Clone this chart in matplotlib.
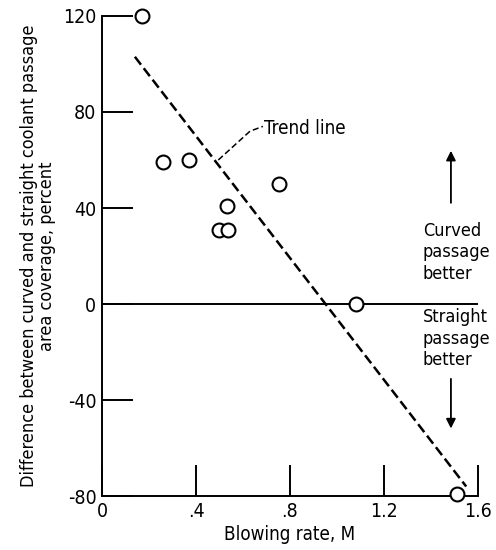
import matplotlib.pyplot as plt

plt.rcParams['font.family'] = ['DejaVu Sans']
plt.rcParams['font.stretch'] = 'condensed'

# data points
blowing_rate = [0.17, 0.26, 0.37, 0.53, 0.50, 0.535, 0.755, 1.08, 1.51]
difference = [120, 59, 60, 41, 31, 31, 50, 0, -79]

# dashed trend line end points
trend_x = [0.14, 1.55]
trend_y = [103, -76]

x_ticks = [0, 0.4, 0.8, 1.2, 1.6]
x_tick_labels = ["0", ".4", ".8", "1.2", "1.6"]
y_ticks = [-80, -40, 0, 40, 80, 120]
y_tick_labels = ["-80", "-40", "0", "40", "80", "120"]

fig = plt.figure(figsize=(4.96, 5.5), dpi=100)
ax = fig.add_axes([0.2056, 0.098, 0.758, 0.873])

ax.set_xlim(0, 1.6)
ax.set_ylim(-80, 120)

ax.axhline(0, color="black", lw=1.4)
ax.plot(trend_x, trend_y, color="black", lw=1.8, dashes=(4, 1.8))
ax.plot(blowing_rate, difference, "o", mfc="white", mec="black",
        ms=10, mew=1.5, clip_on=False, zorder=5)

# trend line label with dashed leader
ax.plot([0.495, 0.63, 0.685], [60, 72, 74], color="black", lw=1.1,
        dashes=(4, 2))
ax.text(0.69, 73, "Trend line", fontsize=13.5, va="center", ha="left")

# region annotations
ax.annotate("", xy=(1.485, 65), xytext=(1.485, 41),
            arrowprops=dict(arrowstyle="-|>", color="black", lw=1.3,
                            mutation_scale=14))
ax.text(1.366, 21.5, "Curved\npassage\nbetter", fontsize=13, ha="left",
        va="center", linespacing=1.25)
ax.text(1.366, -14.5, "Straight\npassage\nbetter", fontsize=13, ha="left",
        va="center", linespacing=1.25)
ax.annotate("", xy=(1.485, -53), xytext=(1.485, -30),
            arrowprops=dict(arrowstyle="-|>", color="black", lw=1.3,
                            mutation_scale=14))

ax.spines["top"].set_visible(False)
ax.spines["right"].set_visible(False)
ax.spines["left"].set_linewidth(1.4)
ax.spines["bottom"].set_linewidth(1.4)

ax.set_xticks(x_ticks)
ax.set_xticklabels(x_tick_labels, fontsize=14)
ax.set_yticks(y_ticks)
ax.set_yticklabels(y_tick_labels, fontsize=14)
ax.tick_params(direction="in", length=22, width=1.4, pad=4)

ax.set_xlabel("Blowing rate, M", fontsize=13.5, labelpad=3)
ax.set_ylabel("Difference between curved and straight coolant passage\n"
              "area coverage, percent", fontsize=13, labelpad=5,
              linespacing=1.0)

fig.savefig("out.png", dpi=100)
